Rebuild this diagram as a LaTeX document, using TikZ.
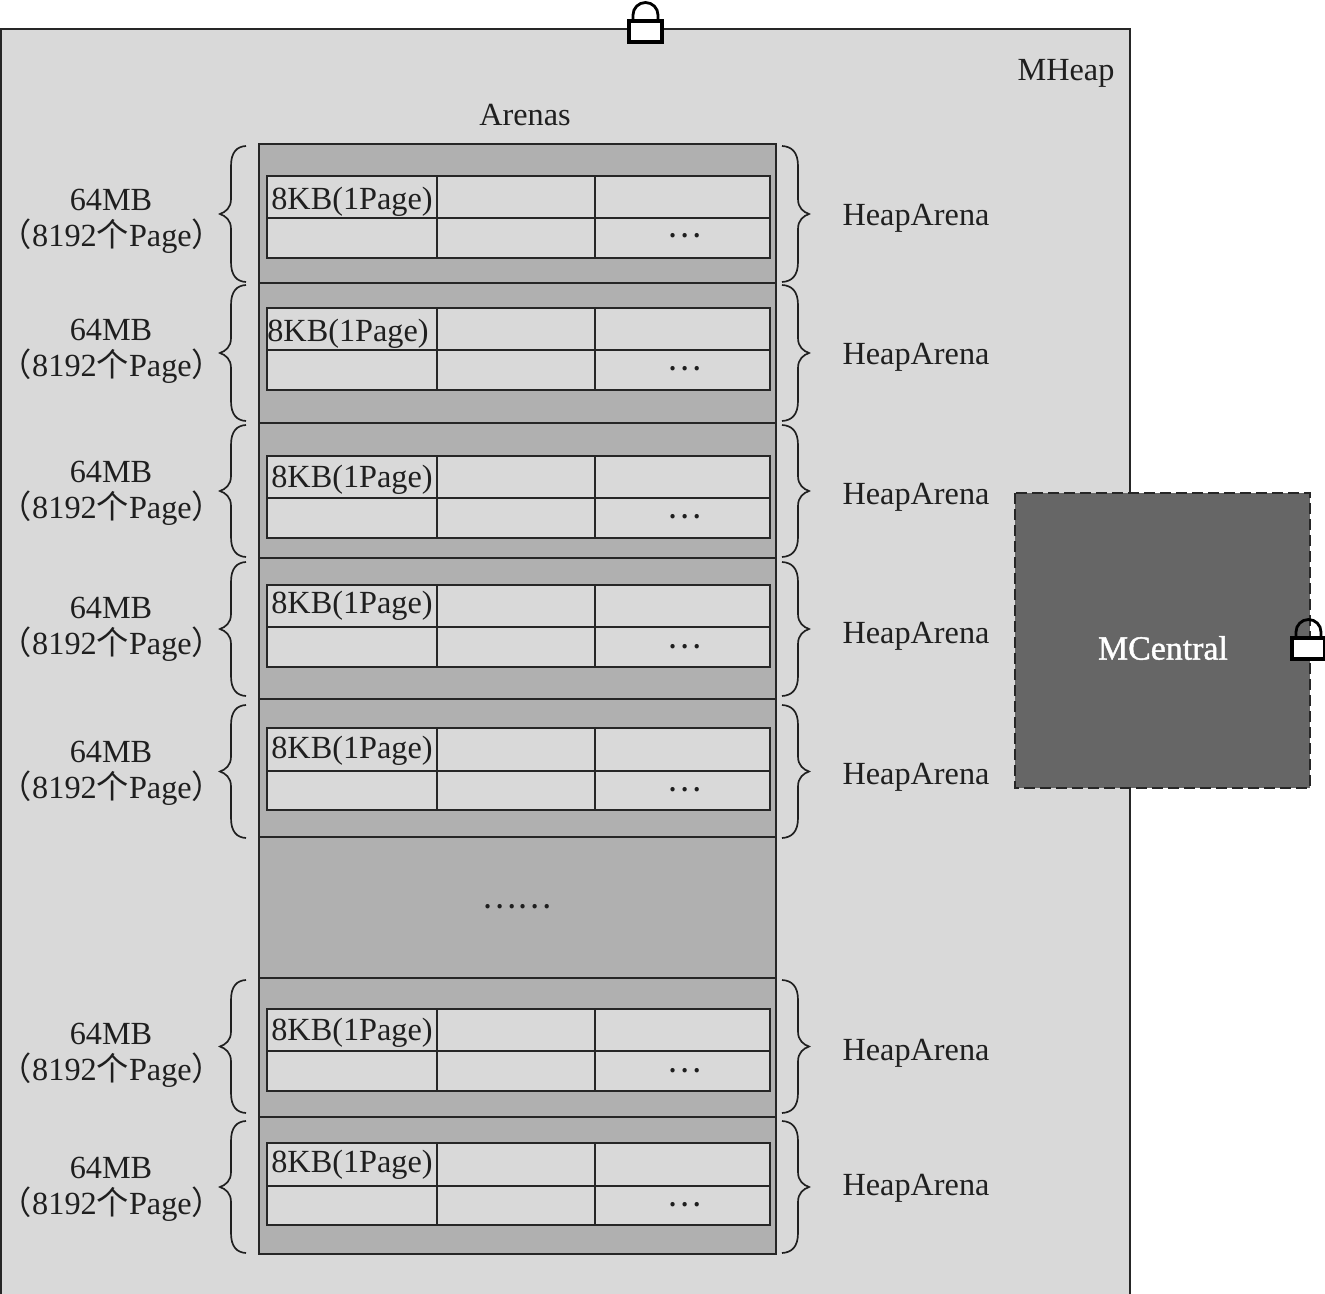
\documentclass[tikz,border=0pt]{standalone}
\usepackage{fontspec}
\setmainfont{Liberation Serif}
\newfontfamily\cjkf{Noto Sans CJK SC}
\newfontfamily\fakeb[FakeBold=1.2]{Liberation Serif}
\newcommand{\bracepath}[5]{% end x, spine x, tip x, y1, y2
  \pgfmathsetmacro{\ym}{(#4+#5)/2}
  \draw[bracel] (#1,#4) .. controls (#2+0.4*#1-0.4*#2,#4+0.5) and (#2,#4+6) .. (#2,#4+20)
    -- (#2,\ym-15) .. controls (#2,\ym-6) and (#3*0.5+#2*0.5,\ym-2) .. (#3,\ym)
    .. controls (#3*0.5+#2*0.5,\ym+2) and (#2,\ym+6) .. (#2,\ym+15)
    -- (#2,#5-20) .. controls (#2,#5-6) and (#2+0.4*#1-0.4*#2,#5-0.5) .. (#1,#5);
}
\newcommand{\lockat}[3]{% left, top of body, name
  \draw[lockline] (#1+4,#2) -- (#1+4,#2-6) arc[start angle=180,end angle=360,radius=12.5] -- (#1+29,#2);
  \node[lockbody] (#3) at (#1+16.5,#2+10.5) {};
}
\tikzset{
  x=0.75pt,y=-0.75pt,
  txt/.style={inner sep=0pt,font=\fontsize{24.2}{28}\selectfont,text=black!88},
  bracel/.style={line width=1.25pt,black!88},
  lockline/.style={line width=2.1pt,black},
  lockbody/.style={draw=black,line width=2.5pt,fill=white,minimum width=24.75pt,minimum height=15.75pt,inner sep=0pt,outer sep=0pt},
  heapbox/.style={draw=black!85,line width=1.5pt,fill=heapgray},
  arenabox/.style={draw=black!85,line width=1.6pt,fill=arenagray},
  gridline/.style={draw=black!85,line width=1.3pt},
  central/.style={draw=black!85,line width=1.7pt,fill=centralgray,dash pattern=on 8pt off 4pt},
}
\definecolor{heapgray}{HTML}{D9D9D9}
\definecolor{arenagray}{HTML}{B0B0B0}
\definecolor{centralgray}{HTML}{666666}
\begin{document}
\begin{tikzpicture}
\useasboundingbox (0,0) rectangle (1325,1294);
% MHeap
\draw[heapbox] (1,29) rectangle (1130,1300);
\lockat{629}{21}{heaplock}
\node[txt] (mheap) at (1066,73) {MHeap};
\node[txt] (arenas) at (525,115) {Arenas};
% Arenas column
\draw[arenabox] (259,144) rectangle (776,1254);
\foreach \y in {283,423,558,699,837,978,1117}
  \draw[gridline,line width=1.5pt] (259,\y) -- (776,\y);
% rows: grid top, mid, bottom, cell label y, cell label x, dots y, left text y, heap label y, brace top, brace bottom
\foreach \gt/\gm/\gb/\ly/\lx/\dy/\ty/\hy/\bt/\bb/\n in {
  176/218/258/202/352/236/200/218/146/282/a,
  308/350/390/334/348/369/330/357/285/421/b,
  456/498/538/480/352/517/472/497/425/557/c,
  585/627/667/606/352/647/608/636/562/696/d,
  728/771/810/751/352/790/752/777/705/838/e,
  1009/1051/1091/1033/352/1071/1034/1053/980/1113/f,
  1143/1186/1225/1165/352/1205/1168/1188/1121/1253/g}{
  \draw[gridline,fill=heapgray] (267,\gt) rectangle (770,\gb);
  \draw[gridline] (267,\gm) -- (770,\gm);
  \draw[gridline] (437,\gt) -- (437,\gb);
  \draw[gridline] (595,\gt) -- (595,\gb);
  \node[txt] (cell\n) at (\lx,\ly) {8KB(1Page)};
  \node[txt] (dots\n) at (685,\dy) {\cjkf …};
  \node[txt] (size\n) at (111,\ty) {64MB};
  \node[txt] (pages\n) at (112,\ty+36) {{\cjkf （}8192{\cjkf 个}Page{\cjkf ）}};
  \node[txt] (heap\n) at (916,\hy) {HeapArena};
  \bracepath{246}{231}{220}{\bt}{\bb}
  \bracepath{782}{798}{809}{\bt}{\bb}
}
\node[txt] (middots) at (517,907) {\cjkf ……};
% MCentral
\draw[central] (1015,493) rectangle (1310,788);
\node[txt,text=white,font=\fontsize{25.4}{28}\selectfont\fakeb] (mcentral) at (1163,648) {MCentral};
\lockat{1292}{638}{centrallock}
\end{tikzpicture}
\end{document}
